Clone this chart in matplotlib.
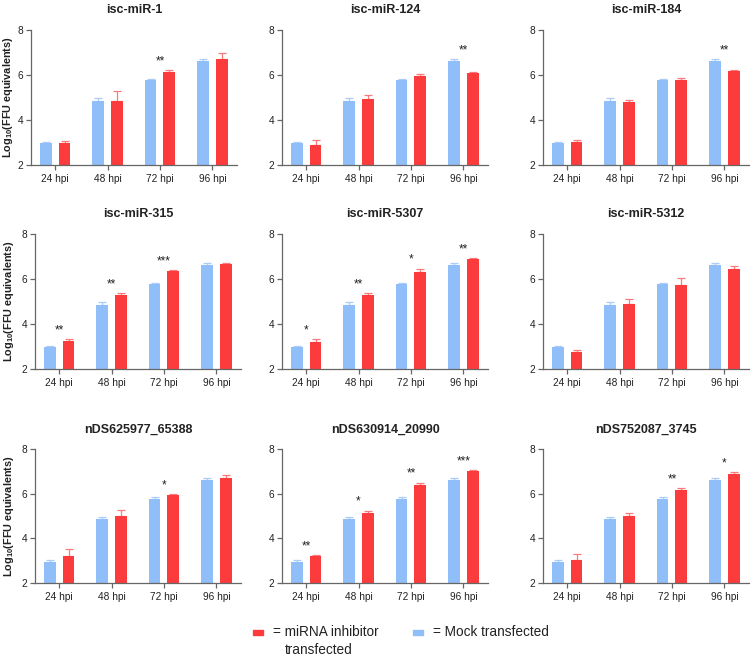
import matplotlib
matplotlib.use("Agg")
import matplotlib.pyplot as plt
from matplotlib.patches import Rectangle
import numpy as np

plt.rcParams['font.family'] = ['Liberation Sans', 'DejaVu Sans']
plt.rcParams['mathtext.fontset'] = 'custom'
plt.rcParams['mathtext.rm'] = 'Liberation Sans:bold'
plt.rcParams['mathtext.default'] = 'rm'

# ---------------- data ----------------
timepoints = ["24 hpi", "48 hpi", "72 hpi", "96 hpi"]
titles = ["isc-miR-1", "isc-miR-124", "isc-miR-184",
          "isc-miR-315", "isc-miR-5307", "isc-miR-5312",
          "nDS625977_65388", "nDS630914_20990", "nDS752087_3745"]

mock_mean = [2.96, 4.86, 5.76, 6.63]
mock_err = [0.08, 0.10, 0.07, 0.07]

inhib_mean = [
    [3.00, 4.85, 6.13, 6.70],
    [2.88, 4.94, 5.94, 6.10],
    [3.04, 4.79, 5.79, 6.16],
    [3.25, 5.28, 6.36, 6.66],
    [3.20, 5.28, 6.33, 6.88],
    [2.75, 4.91, 5.75, 6.45],
    [3.22, 4.99, 5.92, 6.70],
    [3.22, 5.15, 6.37, 7.03],
    [3.05, 5.02, 6.17, 6.88],
]
inhib_err = [
    [0.07, 0.42, 0.10, 0.30],
    [0.21, 0.16, 0.10, 0.05],
    [0.09, 0.12, 0.06, 0.06],
    [0.07, 0.10, 0.02, 0.03],
    [0.13, 0.10, 0.13, 0.04],
    [0.09, 0.22, 0.30, 0.13],
    [0.31, 0.26, 0.05, 0.15],
    [0.04, 0.09, 0.12, 0.03],
    [0.27, 0.13, 0.09, 0.09],
]
stars = [
    ["", "", "**", ""],
    ["", "", "", "**"],
    ["", "", "", "**"],
    ["**", "**", "***", ""],
    ["*", "**", "*", "**"],
    ["", "", "", ""],
    ["", "", "*", ""],
    ["**", "*", "**", "***"],
    ["", "", "**", "*"],
]

legend_labels = ["= miRNA inhibitor", "transfected", "= Mock transfected"]

# ---------------- style ----------------
BLUE = "#90BEF9"
RED = "#FC3B3D"
BLUE_ERR = "#A9CDF8"
RED_ERR = "#F97A7C"
SPINE = "#666666"
TXT = "#222222"

W, H = 756, 657
fig = plt.figure(figsize=(W / 100, H / 100), dpi=100)

row_top = [30, 234, 449]
row_bot = [165, 369, 583]
col_left = [[31, 282, 543], [35, 282, 543], [35, 282, 543]]
ylabel_x = [8.5, 9.5, 9.5]
ax_w = 206

x = np.arange(len(timepoints))
bw = 0.225
off = 0.18

for i, title in enumerate(titles):
    r, c = divmod(i, 3)
    l = col_left[r][c]
    ax = fig.add_axes([l / W, 1 - row_bot[r] / H, ax_w / W, (row_bot[r] - row_top[r]) / H])
    ax.bar(x - off, mock_mean, width=bw, color=BLUE, zorder=2)
    ax.bar(x + off, inhib_mean[i], width=bw, color=RED, zorder=2)
    ax.errorbar(x - off, mock_mean, yerr=[np.zeros(4), mock_err], fmt='none',
                ecolor=BLUE_ERR, elinewidth=0.9, capsize=3, capthick=0.9, zorder=1)
    ax.errorbar(x + off, inhib_mean[i], yerr=[np.zeros(4), inhib_err[i]], fmt='none',
                ecolor=RED_ERR, elinewidth=0.9, capsize=3, capthick=0.9, zorder=1)
    for k, s in enumerate(stars[i]):
        if s:
            top = max(mock_mean[k] + mock_err[k], inhib_mean[i][k] + inhib_err[i][k])
            ax.text(x[k], top + 0.26, s, ha='center', va='baseline', fontsize=8.5, color=TXT)
    ax.set_ylim(2, 8)
    ax.set_xlim(-0.46, 3.47)
    ax.set_yticks([2, 4, 6, 8])
    ax.set_xticks(x)
    ax.set_xticklabels(timepoints)
    for sp in ["top", "right"]:
        ax.spines[sp].set_visible(False)
    for sp in ["left", "bottom"]:
        ax.spines[sp].set_color(SPINE)
        ax.spines[sp].set_linewidth(0.9)
    ax.tick_params(axis='both', colors=SPINE, labelcolor=TXT, labelsize=7.3,
                   width=0.9, length=3.5, pad=2)
    ax.tick_params(axis='x', pad=3)
    ax.set_title(title, fontsize=9, fontweight='bold', color=TXT, pad=12)
    if c == 0:
        ax.set_ylabel("Log$_{10}$(FFU equivalents)", fontsize=7.8, fontweight='bold',
                      color=TXT, va='center')
        ax.yaxis.set_label_coords((ylabel_x[r] - l) / ax_w, 0.5)

# ---------------- legend ----------------
def fig_rect(x0, y0, w, h, color):
    fig.patches.append(Rectangle((x0 / W, 1 - (y0 + h) / H), w / W, h / H,
                                 transform=fig.transFigure, color=color, figure=fig))

fig_rect(253, 630, 10, 5, RED)
fig.text(273 / W, 1 - 632 / H, legend_labels[0], fontsize=9.8, color=TXT, va='center', ha='left')
fig.text(285 / W, 1 - 650 / H, legend_labels[1], fontsize=9.8, color=TXT, va='center', ha='left')
fig_rect(413, 630, 10, 5, BLUE)
fig.text(433 / W, 1 - 632 / H, legend_labels[2], fontsize=9.8, color=TXT, va='center', ha='left')

fig.savefig("out.png", dpi=100)
